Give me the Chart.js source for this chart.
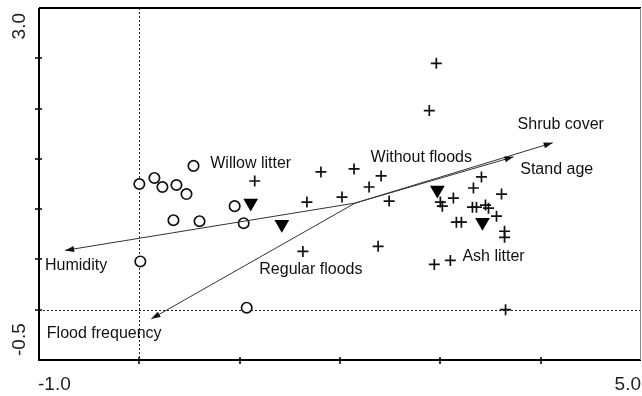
<!DOCTYPE html>
<html>
<head>
<meta charset="utf-8">
<script src="https://cdn.jsdelivr.net/npm/chart.js@4.4.1/dist/chart.umd.min.js"></script>
<style>
  html, body { margin: 0; padding: 0; background: #fff; overflow: hidden; }
  #wrap { width: 642px; height: 396px; position: relative; }
  #ord { display: block; }
</style>
</head>
<body>
<div id="wrap"><canvas id="ord" width="642" height="396"></canvas></div>
<script>
// ordination diagram: sites, nominal centroids, environmental arrows

// sites shown as open circles
const circleSites = [
  [0.00, 1.25], [0.15, 1.31], [0.23, 1.22], [0.37, 1.24], [0.47, 1.15], [0.54, 1.43],
  [0.34, 0.89], [0.60, 0.88], [0.95, 1.03], [1.04, 0.86], [0.01, 0.48], [1.07, 0.02]
];

// sites shown as crosses
const crossSites = [
  [1.15, 1.28], [1.81, 1.37], [2.14, 1.40], [2.41, 1.33], [2.29, 1.22], [2.02, 1.12],
  [1.67, 1.07], [2.49, 1.08], [1.63, 0.58], [2.38, 0.63], [2.96, 2.45], [2.89, 1.98],
  [3.41, 1.32], [3.33, 1.21], [3.61, 1.15], [3.13, 1.11], [3.00, 1.07], [3.02, 1.03],
  [3.32, 1.02], [3.36, 1.02], [3.45, 1.04], [3.48, 1.01], [3.56, 0.93], [3.16, 0.87],
  [3.21, 0.87], [3.64, 0.78], [3.64, 0.72], [2.94, 0.45], [3.10, 0.49], [3.65, 0.00]
];

// centroids of nominal variables (filled triangles)
const centroidNames = ['Willow litter', 'Regular floods', 'Without floods', 'Ash litter'];
const centroids = [[1.11, 1.06], [1.42, 0.85], [2.97, 1.19], [3.42, 0.87]];

// quantitative variables (arrows)
const arrowOrigin = [2.15, 1.06];
const arrowNames = ['Humidity', 'Flood frequency', 'Shrub cover', 'Stand age'];
const arrowTips = [[-0.74, 0.59], [0.12, -0.09], [4.12, 1.66], [3.73, 1.52]];

// where each name is written (data units, text centre)
const labelNames = ['Shrub cover', 'Stand age', 'Without floods', 'Willow litter',
                    'Humidity', 'Regular floods', 'Ash litter', 'Flood frequency'];
const labelPos = [[4.20, 1.84], [4.16, 1.39], [2.81, 1.51], [1.11, 1.45],
                  [-0.63, 0.44], [1.71, 0.40], [3.53, 0.53], [-0.35, -0.24]];

// axes
const xRange = [-1.0, 5.0];
const yRange = [-0.5, 3.0];
const xTicks = [0, 1, 2, 3, 4];
const yTicks = [0, 0.5, 1.0, 1.5, 2.0, 2.5];
const xTickLabels = ['-1.0', '5.0'];
const yTickLabels = ['-0.5', '3.0'];
const zeroLines = [0, 0];

const toPts = arr => arr.map(p => ({x: p[0], y: p[1]}));

const datasets = [];
arrowTips.forEach((t, i) => {
  datasets.push({
    label: arrowNames[i],
    data: toPts([arrowOrigin, t]),
    showLine: true,
    borderColor: '#333',
    borderWidth: 1,
    pointRadius: 0,
    arrow: true
  });
});
datasets.push({
  label: 'circles',
  data: toPts(circleSites),
  pointStyle: 'circle',
  pointRadius: 5.2,
  pointBorderWidth: 1.7,
  pointBorderColor: '#111',
  pointBackgroundColor: '#fff'
});
datasets.push({
  label: 'crosses',
  data: toPts(crossSites),
  pointStyle: 'cross',
  pointRadius: 5.5,
  pointBorderWidth: 1.7,
  pointBorderColor: '#111'
});
datasets.push({
  label: 'centroids',
  data: toPts(centroids),
  pointStyle: 'triangle',
  rotation: 180,
  pointRadius: 8.5,
  pointBorderWidth: 0,
  pointBackgroundColor: '#000',
  pointBorderColor: '#000'
});

const frame = {
  id: 'frame',
  beforeDatasetsDraw(chart) {
    const {ctx, chartArea: a, scales: {x, y}} = chart;
    ctx.save();
    ctx.setLineDash([2, 2]);
    ctx.lineWidth = 1;
    ctx.strokeStyle = '#222';
    const x0 = Math.round(x.getPixelForValue(zeroLines[0])) + 0.5;
    const y0 = Math.round(y.getPixelForValue(zeroLines[1])) + 0.5;
    ctx.beginPath();
    ctx.moveTo(x0, a.top); ctx.lineTo(x0, a.bottom);
    ctx.moveTo(a.left, y0); ctx.lineTo(a.right, y0);
    ctx.stroke();
    ctx.restore();
  },
  afterDatasetsDraw(chart) {
    const {ctx, chartArea: a, scales: {x, y}} = chart;
    ctx.save();

    // arrow heads
    chart.data.datasets.forEach((ds, i) => {
      if (!ds.arrow) return;
      const pts = chart.getDatasetMeta(i).data;
      const p0 = pts[0], p1 = pts[1];
      const ang = Math.atan2(p1.y - p0.y, p1.x - p0.x);
      const len = 9, half = 3;
      ctx.fillStyle = '#111';
      ctx.beginPath();
      ctx.moveTo(p1.x, p1.y);
      ctx.lineTo(p1.x - len * Math.cos(ang) + half * Math.sin(ang),
                 p1.y - len * Math.sin(ang) - half * Math.cos(ang));
      ctx.lineTo(p1.x - len * Math.cos(ang) - half * Math.sin(ang),
                 p1.y - len * Math.sin(ang) + half * Math.cos(ang));
      ctx.closePath();
      ctx.fill();
    });

    // variable names
    ctx.fillStyle = '#111';
    ctx.font = '16px "Liberation Sans", Arial, sans-serif';
    ctx.textAlign = 'center';
    ctx.textBaseline = 'middle';
    labelNames.forEach((n, i) => {
      ctx.fillText(n, x.getPixelForValue(labelPos[i][0]), y.getPixelForValue(labelPos[i][1]));
    });

    // frame
    ctx.strokeStyle = '#000';
    ctx.lineWidth = 2;
    ctx.beginPath();
    ctx.moveTo(a.left, a.top); ctx.lineTo(a.left, a.bottom); ctx.lineTo(a.right, a.bottom);
    ctx.moveTo(a.left, a.top); ctx.lineTo(a.right, a.top);
    ctx.stroke();
    ctx.strokeStyle = '#888';
    ctx.lineWidth = 1;
    ctx.beginPath();
    ctx.moveTo(a.right - 0.5, a.top); ctx.lineTo(a.right - 0.5, a.bottom);
    ctx.stroke();

    // tick marks crossing the axes
    ctx.strokeStyle = '#000';
    ctx.lineWidth = 1.5;
    ctx.beginPath();
    xTicks.forEach(v => {
      const px = Math.round(x.getPixelForValue(v));
      ctx.moveTo(px, a.bottom - 3); ctx.lineTo(px, a.bottom + 4);
    });
    yTicks.forEach(v => {
      const py = Math.round(y.getPixelForValue(v));
      ctx.moveTo(a.left - 4, py); ctx.lineTo(a.left + 3, py);
    });
    ctx.stroke();

    // end labels
    ctx.fillStyle = '#222';
    ctx.font = '19px "Liberation Sans", Arial, sans-serif';
    ctx.textBaseline = 'alphabetic';
    ctx.textAlign = 'left';
    ctx.fillText(xTickLabels[0], x.getPixelForValue(xRange[0]) - 1, a.bottom + 30);
    ctx.textAlign = 'right';
    ctx.fillText(xTickLabels[1], x.getPixelForValue(xRange[1]), a.bottom + 30);

    ctx.save();
    ctx.translate(a.left - 14, 0);
    ctx.rotate(-Math.PI / 2);
    ctx.textBaseline = 'alphabetic';
    ctx.textAlign = 'left';
    ctx.fillText(yTickLabels[0], -(y.getPixelForValue(yRange[0]) - 4), 0);
    ctx.textAlign = 'right';
    ctx.fillText(yTickLabels[1], -(y.getPixelForValue(yRange[1]) + 5), 0);
    ctx.restore();

    ctx.restore();
  }
};

new Chart(document.getElementById('ord'), {
  type: 'scatter',
  data: { datasets },
  options: {
    responsive: false,
    animation: false,
    layout: { autoPadding: false, padding: { left: 39, top: 8, right: 1, bottom: 36 } },
    plugins: { legend: { display: false }, tooltip: { enabled: false } },
    scales: {
      x: { type: 'linear', display: false, min: xRange[0], max: xRange[1] },
      y: { type: 'linear', display: false, min: yRange[0], max: yRange[1] }
    }
  },
  plugins: [frame]
});
</script>
</body>
</html>
